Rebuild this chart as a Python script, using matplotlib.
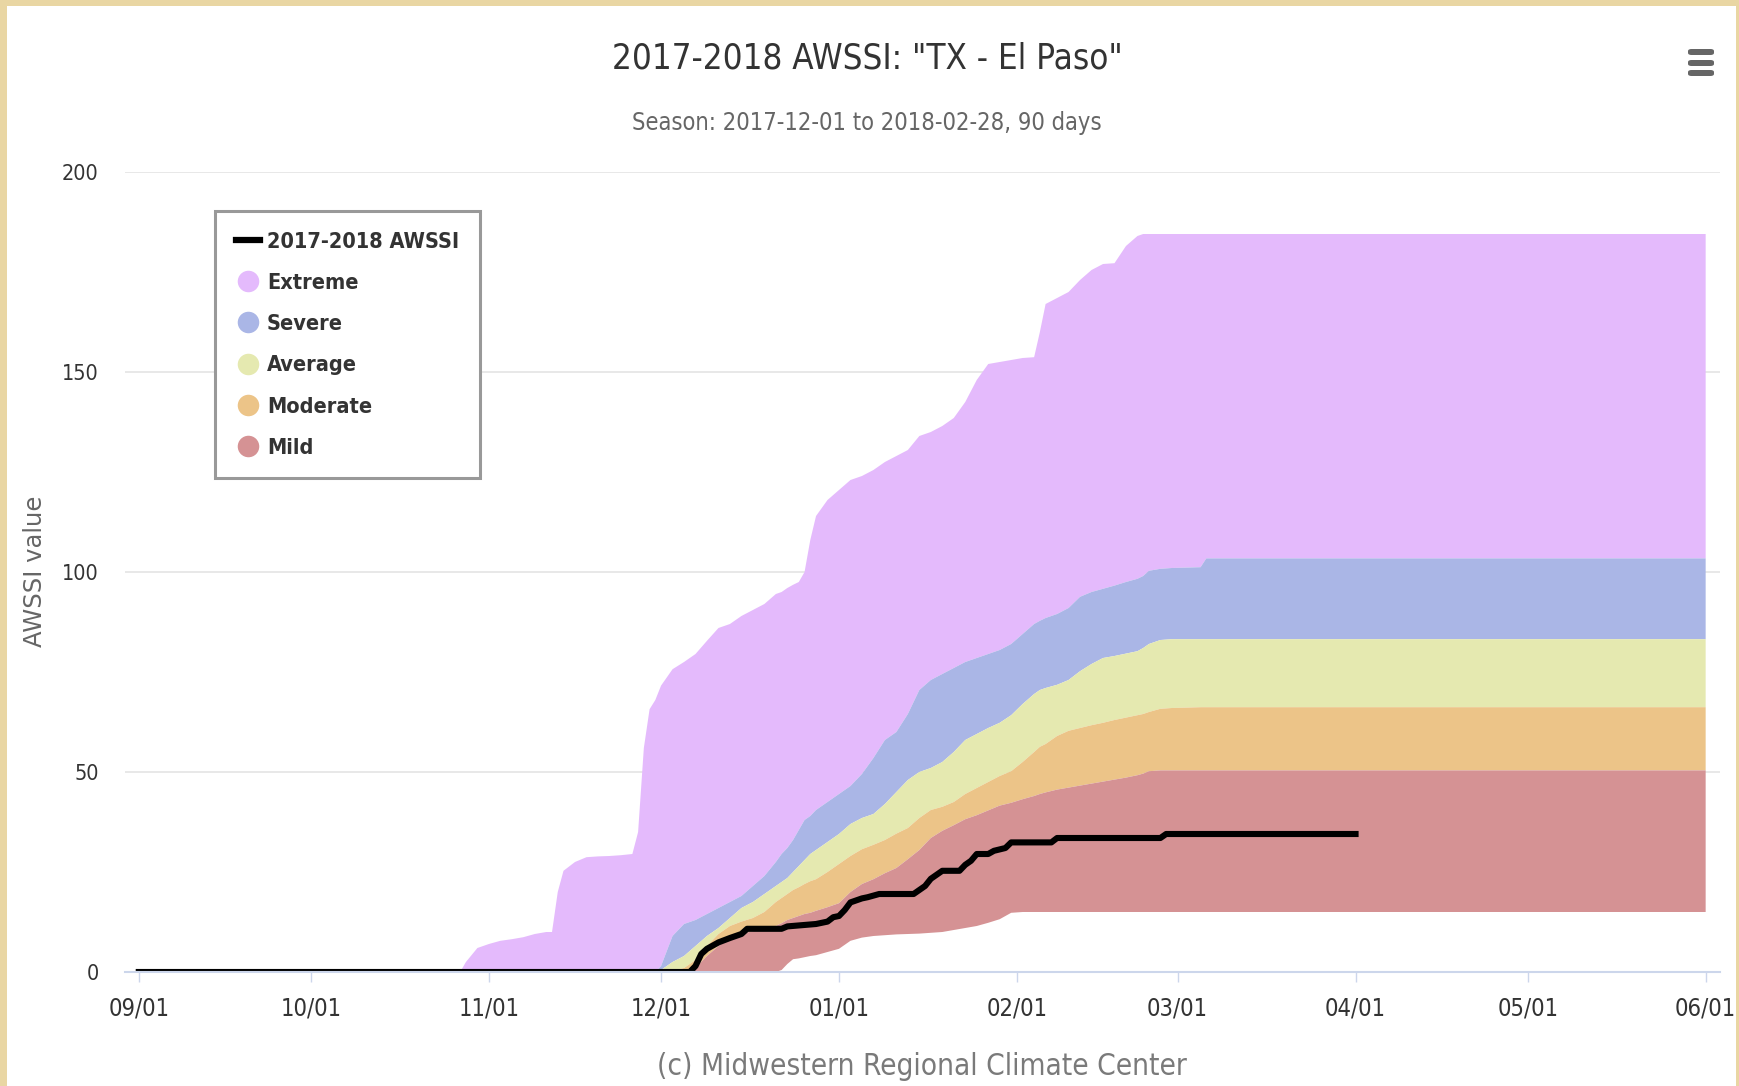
import numpy as np
import matplotlib
matplotlib.use("Agg")
import matplotlib.pyplot as plt
import matplotlib.dates as mdates
import matplotlib.font_manager as fm
from matplotlib.lines import Line2D
from matplotlib.patches import Rectangle, FancyBboxPatch

# ---------------- data ----------------
SEASON_START = "2017-09-01"   # day 0 of the x axis

# days since SEASON_START at which the percentile band edges are read
band_days = [0, 56, 57, 59, 61, 63, 65, 67, 69, 71, 72, 73, 74, 76, 78, 80, 82, 84, 86, 87, 88, 89, 90,
             91, 93, 95, 97, 99, 101, 103, 105, 107, 109, 111,
             112, 113, 114, 115, 116, 117, 118,
             120, 122, 124, 126, 128, 130, 132, 134, 136, 138, 140, 142, 144, 146, 148, 150, 152, 154, 156,
             157, 158,
             160, 162, 164, 166, 168, 170, 172, 174,
             175, 176, 178, 180, 185, 186, 273]

extreme_top = [0, 0, 2.5, 6, 7, 7.8, 8.2, 8.7, 9.5, 10, 10, 20, 25.3, 27.5, 28.7, 28.9, 29, 29.2, 29.5, 35, 56, 65.7, 68,
               71.6, 75.7, 77.5, 79.5, 82.8, 86, 87, 89, 90.5, 92, 94.5,
               95, 96, 96.8, 97.5, 100, 108, 114,
               118, 120.5, 123, 124, 125.5, 127.5, 129, 130.5, 134, 135, 136.5, 138.5, 142.5, 148, 152, 152.5, 153, 153.5, 153.7,
               160, 167,
               168.5, 170, 173, 175.5, 177, 177.2, 181.5, 184,
               184.5, 184.5, 184.5, 184.5, 184.5, 184.5, 184.5]

severe_top = [0, 0, 0, 0, 0, 0, 0, 0, 0, 0, 0, 0, 0, 0, 0, 0, 0, 0, 0, 0, 0, 0, 0,
              1.5, 9, 12, 13, 14.5, 16, 17.5, 19, 21.5, 24, 27.5,
              29.5, 31, 33, 35.5, 38, 39, 40.5,
              42.5, 44.5, 46.5, 49.5, 53.5, 58, 60, 64.5, 70.5, 73, 74.5, 76, 77.5, 78.5, 79.5, 80.5, 82, 84.5, 87,
              87.8, 88.5,
              89.5, 91, 93.8, 95, 95.8, 96.6, 97.5, 98.3,
              99, 100.3, 100.8, 101, 101.2, 103.4, 103.4]

average_top = [0, 0, 0, 0, 0, 0, 0, 0, 0, 0, 0, 0, 0, 0, 0, 0, 0, 0, 0, 0, 0, 0, 0,
               0.5, 2.5, 4, 6.5, 9, 11, 13.5, 16, 17.5, 19.5, 21.5,
               22.5, 23.5, 25, 26.5, 28, 29.5, 30.5,
               32.5, 34.5, 37, 38.5, 39.5, 42, 45, 48, 50, 51, 52.5, 55, 58, 59.5, 61, 62.3, 64.2, 67, 69.5,
               70.5, 71,
               71.8, 73, 75.2, 77, 78.5, 79, 79.6, 80.2,
               81, 82, 83, 83.2, 83.2, 83.2, 83.2]

moderate_top = [0, 0, 0, 0, 0, 0, 0, 0, 0, 0, 0, 0, 0, 0, 0, 0, 0, 0, 0, 0, 0, 0, 0,
                0, 0.3, 1, 3, 6.5, 9.5, 11.5, 12.6, 13.5, 15, 17.5,
                18.5, 19.5, 20.5, 21.2, 22, 22.7, 23.2,
                25, 27, 29, 30.7, 31.8, 33, 34.6, 36, 38.5, 40.5, 41.3, 42.5, 44.5, 46, 47.5, 49, 50.2, 52.5, 55,
                56.3, 57,
                59, 60.3, 61, 61.7, 62.3, 63, 63.6, 64.2,
                64.5, 65, 65.8, 66, 66.2, 66.2, 66.2]

mild_top = [0, 0, 0, 0, 0, 0, 0, 0, 0, 0, 0, 0, 0, 0, 0, 0, 0, 0, 0, 0, 0, 0, 0,
            0, 0, 0, 1, 4, 6.5, 8.7, 9.6, 10.2, 10.6, 11.5,
            12.2, 13, 13.5, 14, 14.5, 14.8, 15.3,
            16.2, 17.2, 20, 22, 23.2, 24.7, 26, 28.2, 30.5, 33.5, 35.3, 36.7, 38.2, 39.2, 40.4, 41.6, 42.3, 43.2, 44,
            44.5, 44.9,
            45.6, 46.1, 46.6, 47.1, 47.6, 48.1, 48.6, 49.2,
            49.6, 50.2, 50.4, 50.4, 50.4, 50.4, 50.4]

mild_bottom = [0, 0, 0, 0, 0, 0, 0, 0, 0, 0, 0, 0, 0, 0, 0, 0, 0, 0, 0, 0, 0, 0, 0,
               0, 0, 0, 0, 0, 0, 0, 0, 0, 0, 0,
               0.5, 2, 3.2, 3.4, 3.7, 4, 4.2,
               5, 5.8, 7.8, 8.6, 9, 9.2, 9.4, 9.5, 9.6, 9.8, 10, 10.5, 11, 11.5, 12.3, 13.2, 14.8, 15, 15,
               15, 15,
               15, 15, 15, 15, 15, 15, 15, 15,
               15, 15, 15, 15, 15, 15, 15]

awssi_days = [0, 96, 97, 98, 99, 101, 103, 105, 106, 112, 113, 118, 120, 121, 122, 123, 124, 126, 127, 129,
              135, 136, 137, 138, 140, 143, 144, 145, 146, 148, 149, 151, 152, 159, 160, 178, 179, 212]
awssi_vals = [0, 0, 1.5, 4.5, 5.8, 7.4, 8.5, 9.5, 10.8, 10.8, 11.4, 12, 12.6, 13.7, 14, 15.5, 17.4, 18.4, 18.7, 19.5,
              19.5, 20.5, 21.5, 23.3, 25.3, 25.3, 26.8, 27.8, 29.5, 29.5, 30.3, 31, 32.4, 32.4, 33.5, 33.5, 34.5, 34.5]

band_names = ["Extreme", "Severe", "Average", "Moderate", "Mild"]
band_colors = ["#E4BAFC", "#AAB6E6", "#E5E9B0", "#ECC488", "#D59294"]

month_ticks = ["2017-09-01", "2017-10-01", "2017-11-01", "2017-12-01", "2018-01-01",
               "2018-02-01", "2018-03-01", "2018-04-01", "2018-05-01", "2018-06-01"]
y_ticks = [0, 50, 100, 150, 200]

title = '2017-2018 AWSSI: "TX - El Paso"'
subtitle = "Season: 2017-12-01 to 2018-02-28, 90 days"
credits = "(c) Midwestern Regional Climate Center"
line_label = "2017-2018 AWSSI"

# ---------------- fonts ----------------
_fonts = fm.fontManager.ttflist
if any(f.name == "DejaVu Sans" and str(f.stretch) in ("condensed", "semi-condensed") for f in _fonts):
    NARROW = dict(family="DejaVu Sans", stretch="condensed")
elif any(f.name == "Liberation Sans Narrow" for f in _fonts):
    NARROW = dict(family="Liberation Sans Narrow")
else:
    NARROW = dict(family="Liberation Sans")

# ---------------- figure ----------------
W, H = 1740, 1086
fig = plt.figure(figsize=(W / 100, H / 100), dpi=100)
fig.patch.set_facecolor("#E9D6A3")
fig.patches.append(Rectangle((7 / W, 0), 1729 / W, 1080 / H, transform=fig.transFigure,
                             facecolor="white", edgecolor="none", zorder=-5))

ax = fig.add_axes([125 / W, (H - 972) / H, 1595 / W, 800 / H])
ax.set_zorder(2)
ax.set_facecolor("none")

start = np.datetime64(SEASON_START)
bx = start + np.array(band_days).astype("timedelta64[D]")
edges = [extreme_top, severe_top, average_top, moderate_top, mild_top, mild_bottom]
for i, (name, col) in enumerate(zip(band_names, band_colors)):
    ax.fill_between(bx, edges[i + 1], edges[i], facecolor=col, edgecolor="none",
                    linewidth=0, zorder=2)

ax_x = start + np.array(awssi_days).astype("timedelta64[D]")
ax.plot(ax_x, awssi_vals, color="black", lw=4.4, solid_joinstyle="round", zorder=3)

# axes styling
s0 = mdates.date2num(start)
ax.set_xlim(s0 - 2.4, s0 + 273 + 2.5)
ax.set_ylim(0, 200)
ax.set_yticks(y_ticks)
ax.set_xticks([mdates.date2num(np.datetime64(d)) for d in month_ticks])
ax.xaxis.set_major_formatter(mdates.DateFormatter("%m/%d"))
for s in ("top", "right", "left"):
    ax.spines[s].set_visible(False)
ax.spines["bottom"].set_color("#CCD6EB")
ax.spines["bottom"].set_linewidth(1.5)
ax.spines["bottom"].set_zorder(4)
ax.yaxis.grid(True, color="#E6E6E6", lw=1.3, zorder=0)
ax.set_axisbelow(True)
ax.tick_params(axis="x", direction="out", length=7, width=1, color="#CCD6EB",
               labelcolor="#333333", labelsize=17, pad=11)
ax.tick_params(axis="y", length=0, labelcolor="#333333", labelsize=15.5, pad=19)
for lab in ax.get_xticklabels() + ax.get_yticklabels():
    lab.set_fontproperties(fm.FontProperties(size=lab.get_fontsize(), **NARROW))

# legend
handles = [Line2D([], [], color="black", lw=4.5)]
for name, col in zip(band_names, band_colors):
    handles.append(Line2D([], [], ls="none", marker="o", markersize=15.5,
                          markerfacecolor=col, markeredgecolor="none"))
leg = ax.legend(handles, [line_label] + band_names, loc="upper left",
                bbox_to_anchor=((215 - 125) / 1595, (972 - 211) / 800), borderaxespad=0,
                prop=fm.FontProperties(size=15.6, weight="bold", **NARROW),
                frameon=True, fancybox=False, edgecolor="#999999", facecolor="white",
                framealpha=1, borderpad=0.95, labelspacing=0.98, handlelength=1.15,
                handletextpad=0.3, handleheight=0.7)
leg.get_frame().set_linewidth(2.2)
for t in leg.get_texts():
    t.set_color("#333333")
leg.set_zorder(5)

# titles
fig.text(867 / W, 1 - 68 / H, title, ha="center", va="baseline", color="#333333",
         fontproperties=fm.FontProperties(size=25, **NARROW))
fig.text(867 / W, 1 - 130 / H, subtitle, ha="center", va="baseline", color="#666666",
         fontproperties=fm.FontProperties(size=17, **NARROW))
fig.text(922 / W, 1 - 1075 / H, credits, ha="center", va="baseline", color="#7A7A7A",
         fontproperties=fm.FontProperties(size=21.3, **NARROW))
fig.text(35 / W, 1 - 571 / H, "AWSSI value", rotation=90, ha="center", va="center",
         color="#666666", fontsize=17.5, family="DejaVu Sans")

# context-menu icon
for yt in (49, 60, 70):
    fig.patches.append(FancyBboxPatch((1688 / W, 1 - (yt + 6) / H), 26 / W, 6 / H,
                                      boxstyle="round,pad=0,rounding_size=0.002",
                                      transform=fig.transFigure, facecolor="#666666",
                                      edgecolor="none", zorder=3))

fig.savefig("out.png", dpi=100, facecolor=fig.get_facecolor())
